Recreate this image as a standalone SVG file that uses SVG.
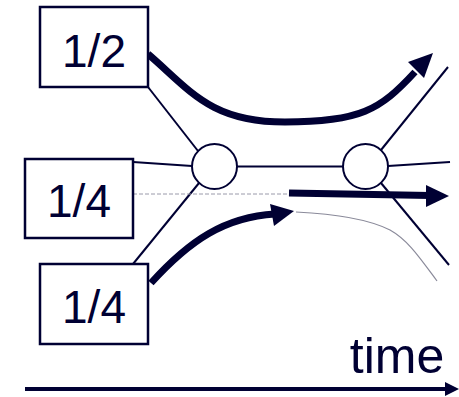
<svg xmlns="http://www.w3.org/2000/svg" width="459" height="397" viewBox="0 0 459 397">
<style>
.box{fill:#fff;stroke:#000033;stroke-width:2.5}
.lbl{font-family:"Liberation Sans",Arial,sans-serif;font-size:46px;fill:#000033;text-anchor:middle}
.thin{fill:none;stroke:#000033;stroke-width:2}
.node{fill:#fff;stroke:#000033;stroke-width:2}
.thick{fill:none;stroke:#000033;stroke-width:7}
.ah{fill:#000033}
</style>
<rect width="459" height="397" fill="#fff"/>
<g id="connectors">
<line class="thin" x1="148" y1="87" x2="198" y2="151"/>
<line class="thin" x1="133" y1="162" x2="192" y2="166"/>
<line class="thin" x1="133" y1="264" x2="199" y2="183"/>
<line x1="133" y1="194" x2="290" y2="194" stroke="#9a9aaa" stroke-width="1" stroke-dasharray="4,2"/>
<line class="thin" x1="237" y1="166.5" x2="343" y2="166.5"/>
<line class="thin" x1="381" y1="150" x2="448" y2="67"/>
<line class="thin" x1="388" y1="166" x2="450" y2="162"/>
<line class="thin" x1="381" y1="183" x2="449" y2="265"/>
<path d="M296,212 C340,214 370,220 390,230 C408,240 420,258 437,281" fill="none" stroke="#8a8a9a" stroke-width="1.2"/>
<path class="thick" d="M148,54 C190,90 210,122 285,122 C360,122 380,110 415,72"/>
<polygon class="ah" points="433,53 408,62 424,78"/>
<line class="thick" x1="289" y1="193" x2="430" y2="195.5"/>
<polygon class="ah" points="449,196 426,185 426,207"/>
<path class="thick" d="M151,283 C190,240 225,217 275,214"/>
<polygon class="ah" points="294,211 270,204 274,226"/>
<line x1="25" y1="389" x2="447" y2="389" stroke="#000033" stroke-width="4"/>
<polygon class="ah" points="459,389 445,382 445,396"/>
</g>
<g id="n_half"><rect class="box" x="40" y="7" width="108" height="80"/><text class="lbl" x="94" y="67">1/2</text></g>
<g id="n_quarter1"><rect class="box" x="25" y="159" width="108" height="79"/><text class="lbl" x="79" y="217">1/4</text></g>
<g id="n_quarter2"><rect class="box" x="40" y="264" width="108" height="80"/><text class="lbl" x="94" y="323">1/4</text></g>
<g id="c_left"><circle class="node" cx="214.5" cy="166.5" r="22.5"/></g>
<g id="c_right"><circle class="node" cx="365.5" cy="166.5" r="22.5"/></g>
<g id="t_time"><text x="397" y="373" style="font-family:'Liberation Sans',Arial,sans-serif;font-size:50px;fill:#000033;text-anchor:middle">time</text></g>
</svg>
